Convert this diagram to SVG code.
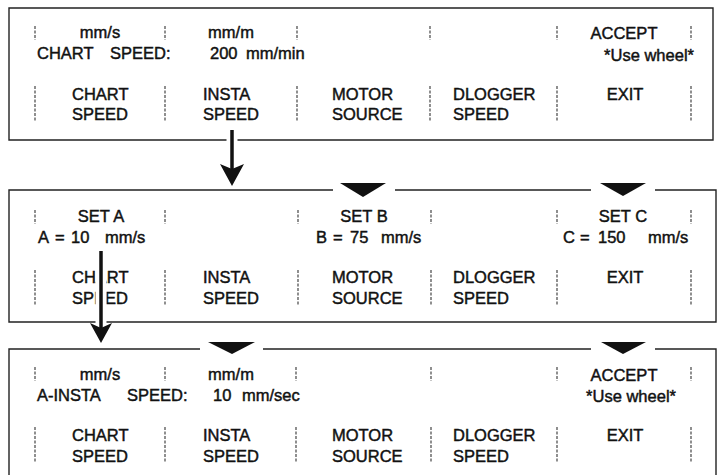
<svg xmlns="http://www.w3.org/2000/svg" width="718" height="475" viewBox="0 0 718 475">
<style>
.t{font-family:"Liberation Sans",Arial,Helvetica,sans-serif;font-size:16.5px;fill:#111;stroke:#111;stroke-width:0.45}
.c{text-anchor:middle}
.e{text-anchor:end}
.sep{stroke:#333;stroke-width:1.1;stroke-dasharray:3 1.5;fill:none}
.box{fill:none;stroke:#222;stroke-width:1.4}
.tri{fill:#111}
.arrow{stroke:#111;stroke-width:3.5;fill:none}
.halo{stroke:#fff;stroke-width:11;fill:none}
.head{fill:#111}
</style>
<rect width="718" height="475" fill="#fff"/>

<g id="panel1">
<path class="box" d="M9,8 H713 V140 H9 Z"/>
<path class="sep" d="M35,26V40M165,26V40M297,26V40M430,26V40M557,26V40M691,26V40"/>
<path class="sep" d="M35,86V122M165,86V122M297,86V122M430,86V122M557,86V122M691,86V122"/>
<text class="t c" x="100" y="38">mm/s</text>
<text class="t c" x="231" y="38">mm/m</text>
<text class="t c" x="624" y="39">ACCEPT</text>
<text class="t" y="59"><tspan x="37">CHART</tspan><tspan x="110">SPEED:</tspan><tspan x="210">200</tspan><tspan x="246">mm/min</tspan></text>
<text class="t e" x="694" y="61">*Use wheel*</text>
<text class="t" x="72" y="100">CHART</text>
<text class="t" x="72" y="120">SPEED</text>
<text class="t" x="203" y="100">INSTA</text>
<text class="t" x="203" y="120">SPEED</text>
<text class="t" x="332" y="100">MOTOR</text>
<text class="t" x="332" y="120">SOURCE</text>
<text class="t" x="453" y="100">DLOGGER</text>
<text class="t" x="453" y="120">SPEED</text>
<text class="t c" x="625" y="100">EXIT</text>
</g>

<g id="panel2">
<path class="box" d="M333,190 H9 V322 H716 V190 H655 M591,190 H395"/>
<polygon class="tri" points="340,183 386,183 363,197"/>
<polygon class="tri" points="600,183 646,183 623,196"/>
<path class="sep" d="M35,210V224M165,210V224M298,210V224M431,210V224M557,210V224M691,210V224"/>
<path class="sep" d="M35,270V306M165,270V306M298,270V306M431,270V306M557,270V306M691,270V306"/>
<text class="t c" x="101" y="222">SET A</text>
<text class="t c" x="364" y="222">SET B</text>
<text class="t c" x="623" y="222">SET C</text>
<text class="t" y="243"><tspan x="38">A</tspan><tspan x="55">=</tspan><tspan x="71">10</tspan><tspan x="105">mm/s</tspan></text>
<text class="t" y="243"><tspan x="316">B</tspan><tspan x="333">=</tspan><tspan x="350">75</tspan><tspan x="381">mm/s</tspan></text>
<text class="t" y="243"><tspan x="563">C</tspan><tspan x="580">=</tspan><tspan x="598">150</tspan><tspan x="648">mm/s</tspan></text>
<text class="t" x="72" y="283">CHART</text>
<text class="t" x="72" y="304">SPEED</text>
<text class="t" x="203" y="283">INSTA</text>
<text class="t" x="203" y="304">SPEED</text>
<text class="t" x="332" y="283">MOTOR</text>
<text class="t" x="332" y="304">SOURCE</text>
<text class="t" x="453" y="283">DLOGGER</text>
<text class="t" x="453" y="304">SPEED</text>
<text class="t c" x="625" y="283">EXIT</text>
</g>

<g id="panel3">
<path class="box" d="M9,475 V349 H200 M263,349 H591 M655,349 H716 V475"/>
<polygon class="tri" points="208,342 255,342 232,354"/>
<polygon class="tri" points="601,342 646,342 623,354"/>
<path class="sep" d="M35,367V381M165,367V381M296,367V381M431,367V381M557,367V381M691,367V381"/>
<path class="sep" d="M35,427V463M165,427V463M296,427V463M431,427V463M557,427V463M691,427V463"/>
<text class="t c" x="100" y="380">mm/s</text>
<text class="t c" x="231" y="380">mm/m</text>
<text class="t c" x="624" y="381">ACCEPT</text>
<text class="t" y="401"><tspan x="37">A-INSTA</tspan><tspan x="127">SPEED:</tspan><tspan x="213">10</tspan><tspan x="242">mm/sec</tspan></text>
<text class="t e" x="676" y="402">*Use wheel*</text>
<text class="t" x="72" y="441">CHART</text>
<text class="t" x="72" y="462">SPEED</text>
<text class="t" x="203" y="441">INSTA</text>
<text class="t" x="203" y="462">SPEED</text>
<text class="t" x="332" y="441">MOTOR</text>
<text class="t" x="332" y="462">SOURCE</text>
<text class="t" x="453" y="441">DLOGGER</text>
<text class="t" x="453" y="462">SPEED</text>
<text class="t c" x="625" y="441">EXIT</text>
</g>

<g id="connectors">
<g id="arrow1">
<line class="halo" x1="232" y1="132" x2="232" y2="165"/>
<line class="arrow" x1="232" y1="130" x2="232" y2="170"/>
<path class="head" d="M220,164 L232,169 L244,164 L232,186 Z"/>
</g>
<g id="arrow2">
<line class="halo" x1="101" y1="253" x2="101" y2="325"/>
<line class="arrow" x1="101" y1="251" x2="101" y2="329"/>
<path class="head" d="M90,323 L101,328 L112,323 L101,343 Z"/>
</g>
</g>
</svg>
